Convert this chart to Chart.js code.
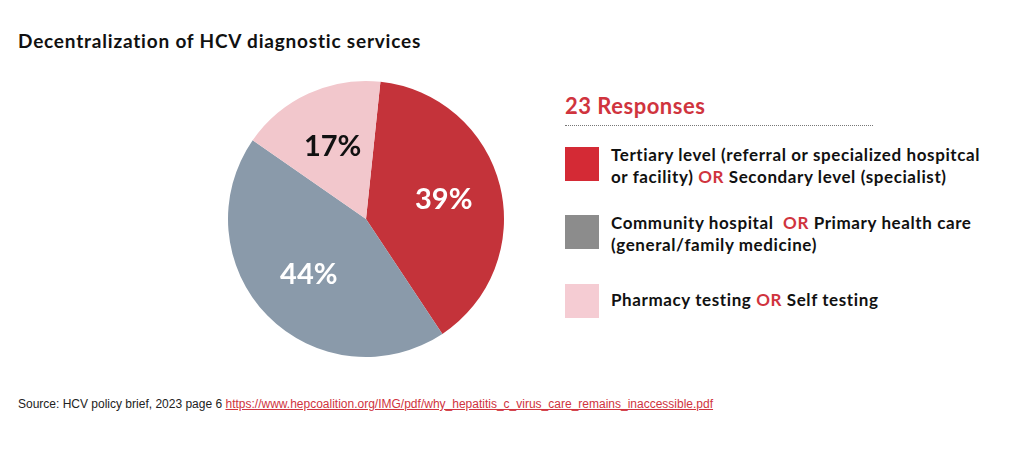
<!DOCTYPE html>
<html>
<head>
<meta charset="utf-8">
<script src="https://cdn.jsdelivr.net/npm/chart.js@4"></script>
<style>
  body { margin: 0; width: 1024px; height: 455px; background: #fff; font-family: Lato, "Open Sans", sans-serif; position: relative; overflow: hidden; }
  h1 { position: absolute; left: 18px; top: 29px; margin: 0; font-size: 19px; font-weight: 700; color: #111; letter-spacing: 0.8px; }
  #pieBox { position: absolute; left: 221px; top: 74px; width: 290px; height: 290px; }
  #legend { position: absolute; left: 565px; top: 92px; width: 450px; }
  #legend .head { color: #d0343e; font-weight: 700; font-size: 22px; letter-spacing: 0.5px; padding-bottom: 6px; width: 308px; border-bottom: 1px dotted #777; }
  .item { position: absolute; left: 0; display: flex; align-items: flex-start; }
  .sw { width: 34px; height: 34px; flex: none; }
  .txt { margin-left: 12px; font-size: 17px; letter-spacing: 0.6px; font-weight: 700; color: #111; line-height: 22px; margin-top: -3px; white-space: nowrap; }
  .or { color: #d0343e; }
  #src { position: absolute; left: 18px; top: 397px; font-size: 12px; color: #222; font-family: "Liberation Sans Narrow", "Liberation Sans", sans-serif; }
  #src a { color: #d0343e; }
</style>
</head>
<body>
<h1>Decentralization of HCV diagnostic services</h1>
<div id="pieBox"><canvas id="pie" width="290" height="290"></canvas></div>
<div id="legend">
  <div class="head">23 Responses</div>
  <div class="item" style="top:55px"><div class="sw" style="background:#d42a35"></div><div class="txt">Tertiary level (referral or specialized hospitcal<br>or facility) <span class="or">OR</span> Secondary level (specialist)</div></div>
  <div class="item" style="top:123px"><div class="sw" style="background:#8c8c8c"></div><div class="txt">Community hospital&nbsp; <span class="or">OR</span> Primary health care<br>(general/family medicine)</div></div>
  <div class="item" style="top:192px"><div class="sw" style="background:#f5ccd3"></div><div class="txt" style="margin-top:5px">Pharmacy testing <span class="or">OR</span> Self testing</div></div>
</div>
<div id="src">Source: HCV policy brief, 2023 page 6 <a href="#">https://www.hepcoalition.org/IMG/pdf/why_hepatitis_c_virus_care_remains_inaccessible.pdf</a></div>
<script>
const categories = ["Tertiary / Secondary level", "Community hospital / Primary health care", "Pharmacy testing / Self testing"];
const shares = [39, 44, 17];
const sliceColors = ["#c4333a", "#8a9aaa", "#f2c7cc"];
const labelColors = ["#ffffff", "#ffffff", "#111111"];

const pctLabels = {
  id: "pctLabels",
  afterDatasetsDraw(chart) {
    const ctx = chart.ctx;
    const meta = chart.getDatasetMeta(0);
    meta.data.forEach((arc, i) => {
      const p = arc.getProps(["x", "y", "startAngle", "endAngle", "outerRadius"], true);
      const mid = (p.startAngle + p.endAngle) / 2;
      const r = p.outerRadius * 0.58;
      ctx.save();
      ctx.font = "bold 29px Lato, sans-serif";
      ctx.fillStyle = labelColors[i];
      ctx.textAlign = "center";
      ctx.textBaseline = "middle";
      ctx.fillText(shares[i] + "%", p.x + r * Math.cos(mid), p.y + r * Math.sin(mid));
      ctx.restore();
    });
  }
};

new Chart(document.getElementById("pie"), {
  type: "pie",
  data: {
    labels: categories,
    datasets: [{ data: shares, backgroundColor: sliceColors, borderWidth: 0 }]
  },
  options: {
    responsive: false,
    animation: false,
    rotation: 6,
    radius: 138,
    plugins: { legend: { display: false }, tooltip: { enabled: false } }
  },
  plugins: [pctLabels]
});
</script>
</body>
</html>
